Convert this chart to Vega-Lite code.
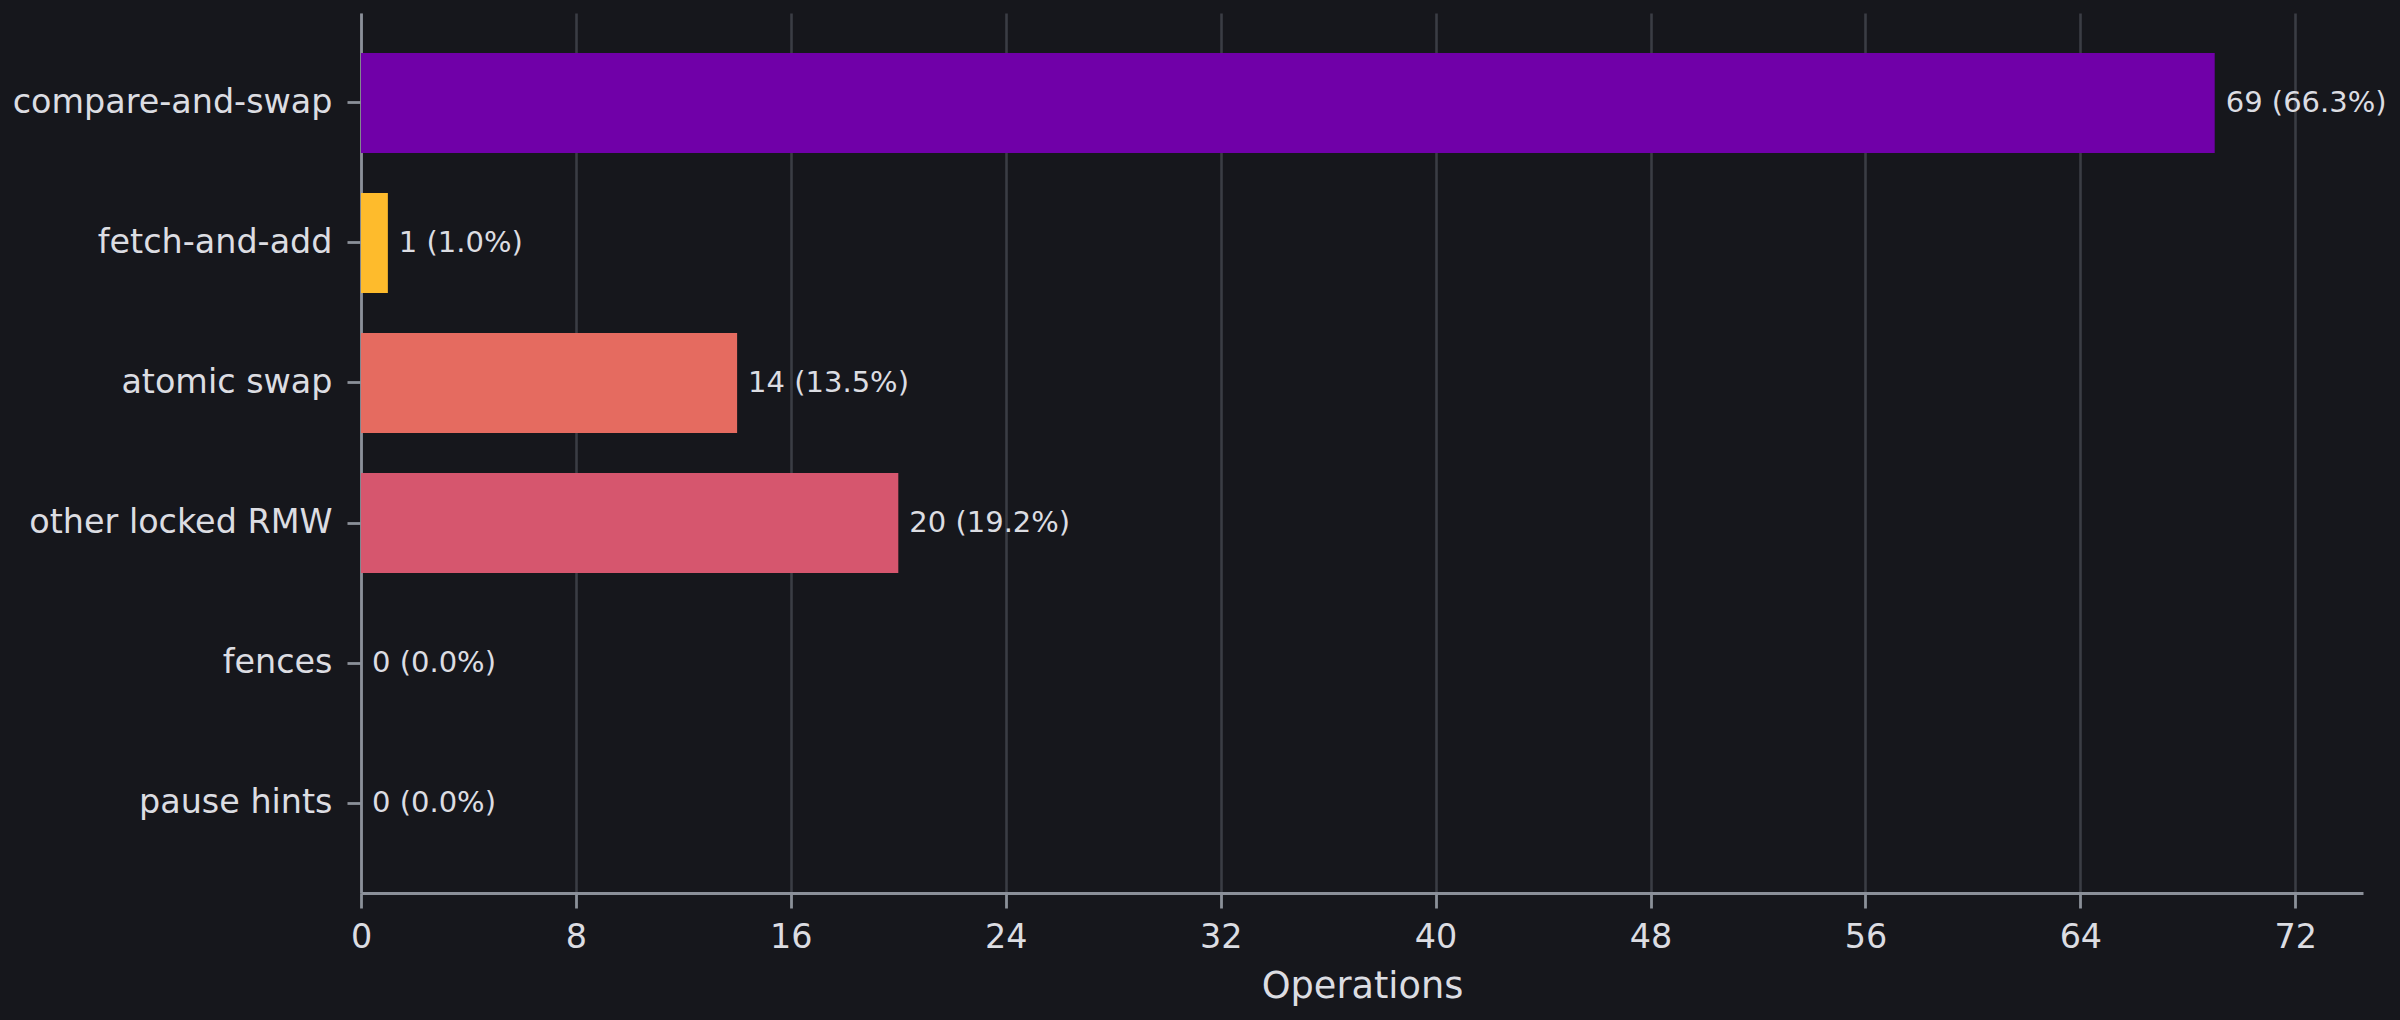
{
  "$schema": "https://vega.github.io/schema/vega-lite/v6.json",
  "width": 2002,
  "height": 880,
  "autosize": {"type": "none"},
  "padding": {"left": 361, "top": 13, "right": 37, "bottom": 127},
  "background": "#16171c",
  "config": {
    "view": {"stroke": null},
    "font": "DejaVu Sans",
    "text": {"font": "DejaVu Sans"}
  },
  "data": {
    "values": [
      {"kind": "compare-and-swap", "count": 69, "label": "69 (66.3%)"},
      {"kind": "fetch-and-add", "count": 1, "label": "1 (1.0%)"},
      {"kind": "atomic swap", "count": 14, "label": "14 (13.5%)"},
      {"kind": "other locked RMW", "count": 20, "label": "20 (19.2%)"},
      {"kind": "fences", "count": 0, "label": "0 (0.0%)"},
      {"kind": "pause hints", "count": 0, "label": "0 (0.0%)"}
    ]
  },
  "encoding": {
    "y": {
      "field": "kind",
      "type": "nominal",
      "sort": null,
      "scale": {"paddingInner": 0.2857, "paddingOuter": 0.2857},
      "axis": {
        "title": null,
        "grid": false,
        "domainColor": "#8b9099",
        "domainWidth": 2.8,
        "tickColor": "#8b9099",
        "tickWidth": 2.8,
        "tickSize": 14,
        "labelPadding": 15,
        "labelLimit": 1000,
        "labelFont": "DejaVu Sans",
        "labelFontSize": 33.4,
        "labelColor": "#dcdde2"
      }
    },
    "x": {
      "field": "count",
      "type": "quantitative",
      "scale": {"domain": [0, 74.52], "nice": false, "zero": true},
      "axis": {
        "title": "Operations",
        "values": [0, 8, 16, 24, 32, 40, 48, 56, 64, 72],
        "grid": true,
        "gridColor": "#3a3d44",
        "gridWidth": 2.6,
        "domainColor": "#8b9099",
        "domainWidth": 2.8,
        "tickColor": "#8b9099",
        "tickWidth": 2.8,
        "tickSize": 15,
        "labelPadding": 13,
        "labelFont": "DejaVu Sans",
        "labelFontSize": 33.4,
        "labelColor": "#dcdde2",
        "labelFlush": false,
        "titleFont": "DejaVu Sans",
        "titleFontSize": 36.7,
        "titleFontWeight": "normal",
        "titleColor": "#dcdde2",
        "titlePadding": 15
      }
    }
  },
  "layer": [
    {
      "mark": {"type": "bar"},
      "encoding": {
        "color": {
          "field": "kind",
          "type": "nominal",
          "scale": {
            "domain": ["compare-and-swap", "fetch-and-add", "atomic swap", "other locked RMW", "fences", "pause hints"],
            "range": ["#7000a8", "#febb2c", "#e56b60", "#d6566e", "#b02991", "#0d0887"]
          },
          "legend": null
        }
      }
    },
    {
      "mark": {
        "type": "text",
        "align": "left",
        "baseline": "middle",
        "dx": 11,
        "font": "DejaVu Sans",
        "fontSize": 29,
        "color": "#dcdde2"
      },
      "encoding": {"text": {"field": "label"}}
    }
  ]
}
